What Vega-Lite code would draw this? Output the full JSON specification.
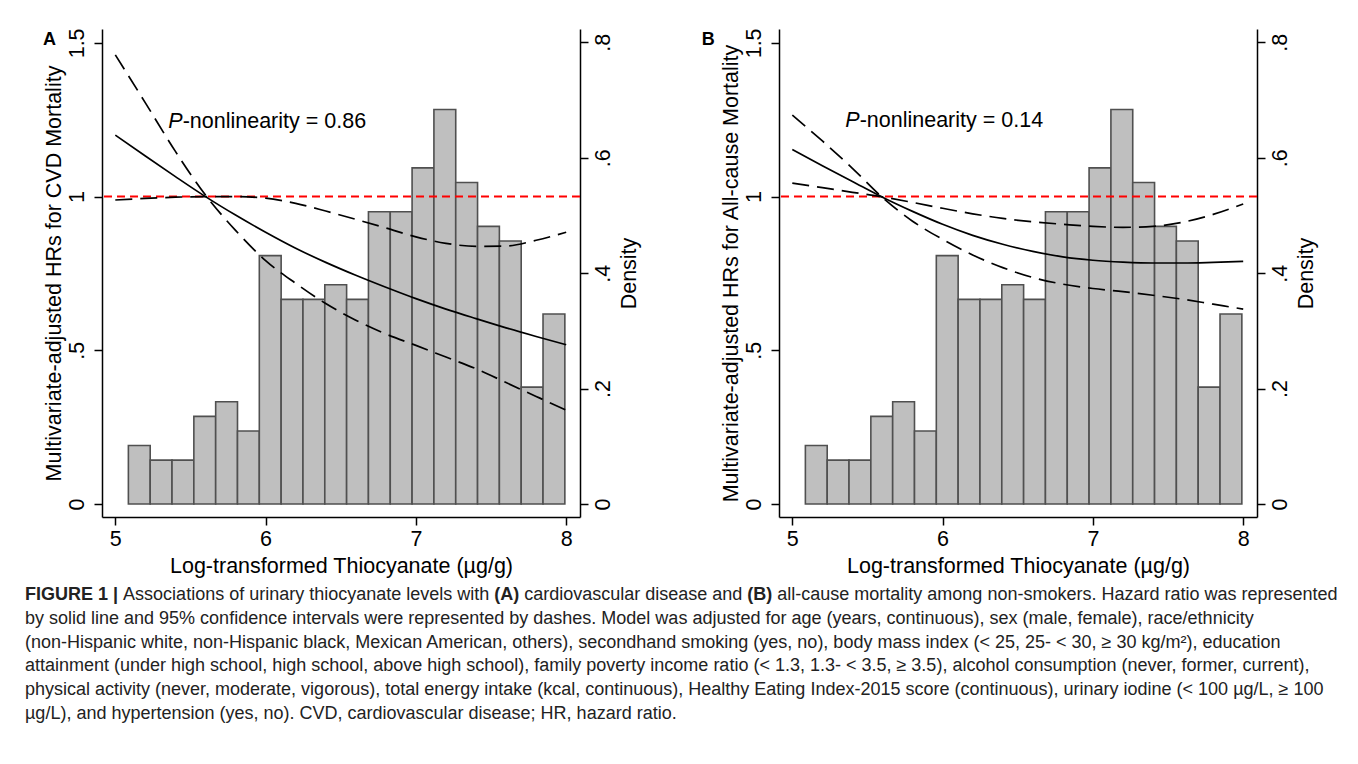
{
  "$schema": "https://vega.github.io/schema/vega-lite/v6.json",
  "background": "white",
  "padding": {"left": 25, "top": 27, "right": 0, "bottom": 0},
  "config": {
    "view": {"stroke": null},
    "font": "Liberation Sans",
    "axis": {
      "domainColor": "#000000", "domainWidth": 1.5,
      "tickColor": "#000000", "tickWidth": 1.5, "tickSize": 8,
      "labelFont": "Liberation Sans", "labelFontSize": 21.5, "labelColor": "#000000",
      "titleFont": "Liberation Sans", "titleFontSize": 21.5, "titleFontWeight": "normal", "titleColor": "#000000",
      "grid": false, "labelOverlap": false, "labelFlush": false
    }
  },
  "datasets": {
    "hist": [
      {"bin_start": 5.087, "bin_end": 5.2322, "density": 0.1013},
      {"bin_start": 5.2322, "bin_end": 5.3774, "density": 0.0760},
      {"bin_start": 5.3774, "bin_end": 5.5226, "density": 0.0760},
      {"bin_start": 5.5226, "bin_end": 5.6678, "density": 0.1519},
      {"bin_start": 5.6678, "bin_end": 5.813, "density": 0.1772},
      {"bin_start": 5.813, "bin_end": 5.9582, "density": 0.1266},
      {"bin_start": 5.9582, "bin_end": 6.1034, "density": 0.4304},
      {"bin_start": 6.1034, "bin_end": 6.2486, "density": 0.3545},
      {"bin_start": 6.2486, "bin_end": 6.3938, "density": 0.3545},
      {"bin_start": 6.3938, "bin_end": 6.539, "density": 0.3798},
      {"bin_start": 6.539, "bin_end": 6.6842, "density": 0.3545},
      {"bin_start": 6.6842, "bin_end": 6.8294, "density": 0.5064},
      {"bin_start": 6.8294, "bin_end": 6.9746, "density": 0.5064},
      {"bin_start": 6.9746, "bin_end": 7.1198, "density": 0.5824},
      {"bin_start": 7.1198, "bin_end": 7.265, "density": 0.6836},
      {"bin_start": 7.265, "bin_end": 7.4102, "density": 0.5570},
      {"bin_start": 7.4102, "bin_end": 7.5554, "density": 0.4811},
      {"bin_start": 7.5554, "bin_end": 7.7006, "density": 0.4558},
      {"bin_start": 7.7006, "bin_end": 7.8458, "density": 0.2026},
      {"bin_start": 7.8458, "bin_end": 7.991, "density": 0.3292}
    ],
    "curves": [
      {"panel": "A", "series": "hr", "x": 5.0, "hr": 1.200},
      {"panel": "A", "series": "hr", "x": 5.2, "hr": 1.132},
      {"panel": "A", "series": "hr", "x": 5.4, "hr": 1.065},
      {"panel": "A", "series": "hr", "x": 5.6, "hr": 1.000},
      {"panel": "A", "series": "hr", "x": 5.8, "hr": 0.940},
      {"panel": "A", "series": "hr", "x": 6.0, "hr": 0.884},
      {"panel": "A", "series": "hr", "x": 6.2, "hr": 0.832},
      {"panel": "A", "series": "hr", "x": 6.4, "hr": 0.786},
      {"panel": "A", "series": "hr", "x": 6.6, "hr": 0.744},
      {"panel": "A", "series": "hr", "x": 6.8, "hr": 0.705},
      {"panel": "A", "series": "hr", "x": 7.0, "hr": 0.668},
      {"panel": "A", "series": "hr", "x": 7.2, "hr": 0.634},
      {"panel": "A", "series": "hr", "x": 7.4, "hr": 0.603},
      {"panel": "A", "series": "hr", "x": 7.6, "hr": 0.573},
      {"panel": "A", "series": "hr", "x": 7.8, "hr": 0.545},
      {"panel": "A", "series": "hr", "x": 8.0, "hr": 0.518},
      {"panel": "A", "series": "ci_a", "x": 5.0, "hr": 1.461},
      {"panel": "A", "series": "ci_a", "x": 5.2, "hr": 1.305},
      {"panel": "A", "series": "ci_a", "x": 5.4, "hr": 1.147},
      {"panel": "A", "series": "ci_a", "x": 5.6, "hr": 1.005},
      {"panel": "A", "series": "ci_a", "x": 5.8, "hr": 0.890},
      {"panel": "A", "series": "ci_a", "x": 6.0, "hr": 0.792},
      {"panel": "A", "series": "ci_a", "x": 6.2, "hr": 0.718},
      {"panel": "A", "series": "ci_a", "x": 6.4, "hr": 0.652},
      {"panel": "A", "series": "ci_a", "x": 6.6, "hr": 0.598},
      {"panel": "A", "series": "ci_a", "x": 6.8, "hr": 0.553},
      {"panel": "A", "series": "ci_a", "x": 7.0, "hr": 0.516},
      {"panel": "A", "series": "ci_a", "x": 7.2, "hr": 0.478},
      {"panel": "A", "series": "ci_a", "x": 7.4, "hr": 0.440},
      {"panel": "A", "series": "ci_a", "x": 7.6, "hr": 0.395},
      {"panel": "A", "series": "ci_a", "x": 7.8, "hr": 0.350},
      {"panel": "A", "series": "ci_a", "x": 8.0, "hr": 0.305},
      {"panel": "A", "series": "ci_b", "x": 5.0, "hr": 0.989},
      {"panel": "A", "series": "ci_b", "x": 5.2, "hr": 0.994},
      {"panel": "A", "series": "ci_b", "x": 5.4, "hr": 0.998},
      {"panel": "A", "series": "ci_b", "x": 5.6, "hr": 1.000},
      {"panel": "A", "series": "ci_b", "x": 5.8, "hr": 1.000},
      {"panel": "A", "series": "ci_b", "x": 6.0, "hr": 0.995},
      {"panel": "A", "series": "ci_b", "x": 6.2, "hr": 0.978},
      {"panel": "A", "series": "ci_b", "x": 6.4, "hr": 0.953},
      {"panel": "A", "series": "ci_b", "x": 6.6, "hr": 0.926},
      {"panel": "A", "series": "ci_b", "x": 6.8, "hr": 0.898},
      {"panel": "A", "series": "ci_b", "x": 7.0, "hr": 0.869},
      {"panel": "A", "series": "ci_b", "x": 7.2, "hr": 0.848},
      {"panel": "A", "series": "ci_b", "x": 7.4, "hr": 0.838},
      {"panel": "A", "series": "ci_b", "x": 7.6, "hr": 0.839},
      {"panel": "A", "series": "ci_b", "x": 7.8, "hr": 0.858},
      {"panel": "A", "series": "ci_b", "x": 8.0, "hr": 0.884},
      {"panel": "B", "series": "hr", "x": 5.0, "hr": 1.153},
      {"panel": "B", "series": "hr", "x": 5.2, "hr": 1.100},
      {"panel": "B", "series": "hr", "x": 5.4, "hr": 1.049},
      {"panel": "B", "series": "hr", "x": 5.6, "hr": 0.998},
      {"panel": "B", "series": "hr", "x": 5.8, "hr": 0.952},
      {"panel": "B", "series": "hr", "x": 6.0, "hr": 0.910},
      {"panel": "B", "series": "hr", "x": 6.2, "hr": 0.874},
      {"panel": "B", "series": "hr", "x": 6.4, "hr": 0.845},
      {"panel": "B", "series": "hr", "x": 6.6, "hr": 0.822},
      {"panel": "B", "series": "hr", "x": 6.8, "hr": 0.804},
      {"panel": "B", "series": "hr", "x": 7.0, "hr": 0.793},
      {"panel": "B", "series": "hr", "x": 7.2, "hr": 0.787},
      {"panel": "B", "series": "hr", "x": 7.4, "hr": 0.784},
      {"panel": "B", "series": "hr", "x": 7.6, "hr": 0.784},
      {"panel": "B", "series": "hr", "x": 7.8, "hr": 0.786},
      {"panel": "B", "series": "hr", "x": 8.0, "hr": 0.789},
      {"panel": "B", "series": "ci_a", "x": 5.0, "hr": 1.265},
      {"panel": "B", "series": "ci_a", "x": 5.2, "hr": 1.181},
      {"panel": "B", "series": "ci_a", "x": 5.4, "hr": 1.092},
      {"panel": "B", "series": "ci_a", "x": 5.6, "hr": 0.997},
      {"panel": "B", "series": "ci_a", "x": 5.8, "hr": 0.920},
      {"panel": "B", "series": "ci_a", "x": 6.0, "hr": 0.861},
      {"panel": "B", "series": "ci_a", "x": 6.2, "hr": 0.810},
      {"panel": "B", "series": "ci_a", "x": 6.4, "hr": 0.769},
      {"panel": "B", "series": "ci_a", "x": 6.6, "hr": 0.737},
      {"panel": "B", "series": "ci_a", "x": 6.8, "hr": 0.715},
      {"panel": "B", "series": "ci_a", "x": 7.0, "hr": 0.701},
      {"panel": "B", "series": "ci_a", "x": 7.2, "hr": 0.691},
      {"panel": "B", "series": "ci_a", "x": 7.4, "hr": 0.679},
      {"panel": "B", "series": "ci_a", "x": 7.6, "hr": 0.666},
      {"panel": "B", "series": "ci_a", "x": 7.8, "hr": 0.650},
      {"panel": "B", "series": "ci_a", "x": 8.0, "hr": 0.634},
      {"panel": "B", "series": "ci_b", "x": 5.0, "hr": 1.044},
      {"panel": "B", "series": "ci_b", "x": 5.2, "hr": 1.029},
      {"panel": "B", "series": "ci_b", "x": 5.4, "hr": 1.014},
      {"panel": "B", "series": "ci_b", "x": 5.6, "hr": 0.999},
      {"panel": "B", "series": "ci_b", "x": 5.8, "hr": 0.981},
      {"panel": "B", "series": "ci_b", "x": 6.0, "hr": 0.962},
      {"panel": "B", "series": "ci_b", "x": 6.2, "hr": 0.944},
      {"panel": "B", "series": "ci_b", "x": 6.4, "hr": 0.929},
      {"panel": "B", "series": "ci_b", "x": 6.6, "hr": 0.918},
      {"panel": "B", "series": "ci_b", "x": 6.8, "hr": 0.910},
      {"panel": "B", "series": "ci_b", "x": 7.0, "hr": 0.903},
      {"panel": "B", "series": "ci_b", "x": 7.2, "hr": 0.900},
      {"panel": "B", "series": "ci_b", "x": 7.4, "hr": 0.903},
      {"panel": "B", "series": "ci_b", "x": 7.6, "hr": 0.917},
      {"panel": "B", "series": "ci_b", "x": 7.8, "hr": 0.942},
      {"panel": "B", "series": "ci_b", "x": 8.0, "hr": 0.976}
    ],
    "caption": [
      {"line": 1, "seg": "b1", "text": "FIGURE 1 |"},
      {"line": 1, "seg": "n2", "text": "Associations of urinary thiocyanate levels with"},
      {"line": 1, "seg": "b3", "text": "(A)"},
      {"line": 1, "seg": "n4", "text": "cardiovascular disease and"},
      {"line": 1, "seg": "b5", "text": "(B)"},
      {"line": 1, "seg": "n6", "text": "all-cause mortality among non-smokers. Hazard ratio was represented"},
      {"line": 2, "seg": "n", "text": "by solid line and 95% confidence intervals were represented by dashes. Model was adjusted for age (years, continuous), sex (male, female), race/ethnicity"},
      {"line": 3, "seg": "n", "text": "(non-Hispanic white, non-Hispanic black, Mexican American, others), secondhand smoking (yes, no), body mass index (< 25, 25- < 30, ≥ 30 kg/m²), education"},
      {"line": 4, "seg": "n", "text": "attainment (under high school, high school, above high school), family poverty income ratio (< 1.3, 1.3- < 3.5, ≥ 3.5), alcohol consumption (never, former, current),"},
      {"line": 5, "seg": "n", "text": "physical activity (never, moderate, vigorous), total energy intake (kcal, continuous), Healthy Eating Index-2015 score (continuous), urinary iodine (< 100 µg/L, ≥ 100"},
      {"line": 6, "seg": "n", "text": "µg/L), and hypertension (yes, no). CVD, cardiovascular disease; HR, hazard ratio."}
    ]
  },
  "spacing": 9,
  "vconcat": [
    {
      "hconcat": [
        {
          "width": 478, "height": 488,
          "layer": [
            {
              "data": {"name": "hist"},
              "mark": {"type": "rect", "fill": "#bfbfbf", "stroke": "#505050", "strokeWidth": 1.6},
              "encoding": {
                "x": {"field": "bin_start", "type": "quantitative", "title": "Log-transformed Thiocyanate (µg/g)",
                      "scale": {"domain": [4.9115, 8.0918], "nice": false, "zero": false},
                      "axis": {"values": [5, 6, 7, 8], "format": "d", "labelPadding": 3, "titlePadding": 6}},
                "x2": {"field": "bin_end"},
                "y": {"field": "density", "type": "quantitative", "title": "Density",
                      "scale": {"domain": [-0.02253, 0.8231], "nice": false, "zero": false},
                      "axis": {"orient": "right", "values": [0, 0.2, 0.4, 0.6, 0.8],
                               "labelExpr": "datum.value == 0 ? '0' : replace(format(datum.value, '~g'), '0.', '.')",
                               "labelAngle": 270, "labelAlign": "center", "labelBaseline": "alphabetic", "labelPadding": 21,
                               "titleAngle": 270, "titleBaseline": "top", "titlePadding": 5}},
                "y2": {"datum": 0}
              }
            },
            {
              "layer": [
                {
                  "data": {"values": [{}]},
                  "mark": {"type": "rule", "color": "#ff0000", "strokeWidth": 2, "strokeDash": [8, 5]},
                  "encoding": {
                    "y": {"datum": 1, "type": "quantitative", "title": "Multivariate-adjusted HRs for CVD Mortality",
                          "scale": {"domain": [-0.04229, 1.5452], "nice": false, "zero": false},
                          "axis": {"orient": "left", "values": [0, 0.5, 1, 1.5],
                                   "labelExpr": "datum.value == 0 ? '0' : replace(format(datum.value, '~g'), '0.', '.')",
                                   "labelAngle": 270, "labelAlign": "center", "labelBaseline": "alphabetic", "labelPadding": 11,
                                   "titleAngle": 270, "titleBaseline": "alphabetic", "titlePadding": 6}}
                  }
                },
                {
                  "data": {"name": "curves"},
                  "transform": [{"filter": "datum.panel == 'A' && datum.series != 'hr'"}],
                  "mark": {"type": "line", "color": "#000000", "strokeWidth": 1.7, "strokeDash": [17, 8], "interpolate": "monotone"},
                  "encoding": {
                    "x": {"field": "x", "type": "quantitative", "title": "Log-transformed Thiocyanate (µg/g)"},
                    "y": {"field": "hr", "type": "quantitative", "title": "Multivariate-adjusted HRs for CVD Mortality"},
                    "detail": {"field": "series"}
                  }
                },
                {
                  "data": {"name": "curves"},
                  "transform": [{"filter": "datum.panel == 'A' && datum.series == 'hr'"}],
                  "mark": {"type": "line", "color": "#000000", "strokeWidth": 1.7, "interpolate": "monotone"},
                  "encoding": {
                    "x": {"field": "x", "type": "quantitative", "title": "Log-transformed Thiocyanate (µg/g)"},
                    "y": {"field": "hr", "type": "quantitative", "title": "Multivariate-adjusted HRs for CVD Mortality"}
                  }
                },
                {
                  "data": {"values": [{}]},
                  "mark": {"type": "text", "text": "P", "fontStyle": "italic", "fontSize": 21.5, "align": "left", "baseline": "alphabetic", "color": "#000000"},
                  "encoding": {"x": {"datum": 5.353, "type": "quantitative"}, "y": {"datum": 1.223, "type": "quantitative"}}
                },
                {
                  "data": {"values": [{}]},
                  "mark": {"type": "text", "text": "-nonlinearity = 0.86", "dx": 14.3, "fontSize": 21.5, "align": "left", "baseline": "alphabetic", "color": "#000000"},
                  "encoding": {"x": {"datum": 5.353, "type": "quantitative"}, "y": {"datum": 1.223, "type": "quantitative"}}
                },
                {
                  "data": {"values": [{}]},
                  "mark": {"type": "text", "text": "A", "fontWeight": "bold", "fontSize": 18, "align": "left", "baseline": "alphabetic", "color": "#000000"},
                  "encoding": {"x": {"datum": 4.519, "type": "quantitative"}, "y": {"datum": 1.492, "type": "quantitative"}}
                }
              ]
            }
          ],
          "resolve": {"scale": {"y": "independent"}}
        },
        {
          "width": 478, "height": 488,
          "layer": [
            {
              "data": {"name": "hist"},
              "mark": {"type": "rect", "fill": "#bfbfbf", "stroke": "#505050", "strokeWidth": 1.6},
              "encoding": {
                "x": {"field": "bin_start", "type": "quantitative", "title": "Log-transformed Thiocyanate (µg/g)",
                      "scale": {"domain": [4.9115, 8.0918], "nice": false, "zero": false},
                      "axis": {"values": [5, 6, 7, 8], "format": "d", "labelPadding": 3, "titlePadding": 6}},
                "x2": {"field": "bin_end"},
                "y": {"field": "density", "type": "quantitative", "title": "Density",
                      "scale": {"domain": [-0.02253, 0.8231], "nice": false, "zero": false},
                      "axis": {"orient": "right", "values": [0, 0.2, 0.4, 0.6, 0.8],
                               "labelExpr": "datum.value == 0 ? '0' : replace(format(datum.value, '~g'), '0.', '.')",
                               "labelAngle": 270, "labelAlign": "center", "labelBaseline": "alphabetic", "labelPadding": 21,
                               "titleAngle": 270, "titleBaseline": "top", "titlePadding": 5}},
                "y2": {"datum": 0}
              }
            },
            {
              "layer": [
                {
                  "data": {"values": [{}]},
                  "mark": {"type": "rule", "color": "#ff0000", "strokeWidth": 2, "strokeDash": [8, 5]},
                  "encoding": {
                    "y": {"datum": 1, "type": "quantitative", "title": "Multivariate-adjusted HRs for All-cause Mortality",
                          "scale": {"domain": [-0.04229, 1.5452], "nice": false, "zero": false},
                          "axis": {"orient": "left", "values": [0, 0.5, 1, 1.5],
                                   "labelExpr": "datum.value == 0 ? '0' : replace(format(datum.value, '~g'), '0.', '.')",
                                   "labelAngle": 270, "labelAlign": "center", "labelBaseline": "alphabetic", "labelPadding": 11,
                                   "titleAngle": 270, "titleBaseline": "alphabetic", "titlePadding": 6}}
                  }
                },
                {
                  "data": {"name": "curves"},
                  "transform": [{"filter": "datum.panel == 'B' && datum.series != 'hr'"}],
                  "mark": {"type": "line", "color": "#000000", "strokeWidth": 1.7, "strokeDash": [17, 8], "interpolate": "monotone"},
                  "encoding": {
                    "x": {"field": "x", "type": "quantitative", "title": "Log-transformed Thiocyanate (µg/g)"},
                    "y": {"field": "hr", "type": "quantitative", "title": "Multivariate-adjusted HRs for All-cause Mortality"},
                    "detail": {"field": "series"}
                  }
                },
                {
                  "data": {"name": "curves"},
                  "transform": [{"filter": "datum.panel == 'B' && datum.series == 'hr'"}],
                  "mark": {"type": "line", "color": "#000000", "strokeWidth": 1.7, "interpolate": "monotone"},
                  "encoding": {
                    "x": {"field": "x", "type": "quantitative", "title": "Log-transformed Thiocyanate (µg/g)"},
                    "y": {"field": "hr", "type": "quantitative", "title": "Multivariate-adjusted HRs for All-cause Mortality"}
                  }
                },
                {
                  "data": {"values": [{}]},
                  "mark": {"type": "text", "text": "P", "fontStyle": "italic", "fontSize": 21.5, "align": "left", "baseline": "alphabetic", "color": "#000000"},
                  "encoding": {"x": {"datum": 5.353, "type": "quantitative"}, "y": {"datum": 1.225, "type": "quantitative"}}
                },
                {
                  "data": {"values": [{}]},
                  "mark": {"type": "text", "text": "-nonlinearity = 0.14", "dx": 14.3, "fontSize": 21.5, "align": "left", "baseline": "alphabetic", "color": "#000000"},
                  "encoding": {"x": {"datum": 5.353, "type": "quantitative"}, "y": {"datum": 1.225, "type": "quantitative"}}
                },
                {
                  "data": {"values": [{}]},
                  "mark": {"type": "text", "text": "B", "fontWeight": "bold", "fontSize": 18, "align": "left", "baseline": "alphabetic", "color": "#000000"},
                  "encoding": {"x": {"datum": 4.397, "type": "quantitative"}, "y": {"datum": 1.492, "type": "quantitative"}}
                }
              ]
            }
          ],
          "resolve": {"scale": {"y": "independent"}}
        }
      ],
      "spacing": 199,
      "bounds": "flush"
    },
    {
      "width": 1240, "height": 132,
      "data": {"name": "caption"},
      "encoding": {
        "x": {"datum": 0, "type": "quantitative", "scale": {"domain": [0, 1]}, "axis": null},
        "y": {"field": "line", "type": "quantitative", "scale": {"domain": [0.45, 6], "reverse": true, "nice": false, "zero": false}, "axis": null}
      },
      "layer": [
        {"transform": [{"filter": "datum.seg == 'b1'"}], "mark": {"type": "text", "align": "left", "baseline": "alphabetic", "fontSize": 18, "dx": -77, "fontWeight": "bold", "color": "#222222"}, "encoding": {"text": {"field": "text"}}},
        {"transform": [{"filter": "datum.seg == 'n2'"}], "mark": {"type": "text", "align": "left", "baseline": "alphabetic", "fontSize": 18, "dx": 21.1, "color": "#222222"}, "encoding": {"text": {"field": "text"}}},
        {"transform": [{"filter": "datum.seg == 'b3'"}], "mark": {"type": "text", "align": "left", "baseline": "alphabetic", "fontSize": 18, "dx": 392.2, "fontWeight": "bold", "color": "#222222"}, "encoding": {"text": {"field": "text"}}},
        {"transform": [{"filter": "datum.seg == 'n4'"}], "mark": {"type": "text", "align": "left", "baseline": "alphabetic", "fontSize": 18, "dx": 422.2, "color": "#222222"}, "encoding": {"text": {"field": "text"}}},
        {"transform": [{"filter": "datum.seg == 'b5'"}], "mark": {"type": "text", "align": "left", "baseline": "alphabetic", "fontSize": 18, "dx": 645.3, "fontWeight": "bold", "color": "#222222"}, "encoding": {"text": {"field": "text"}}},
        {"transform": [{"filter": "datum.seg == 'n6'"}], "mark": {"type": "text", "align": "left", "baseline": "alphabetic", "fontSize": 18, "dx": 675.3, "color": "#222222"}, "encoding": {"text": {"field": "text"}}},
        {"transform": [{"filter": "datum.seg == 'n'"}], "mark": {"type": "text", "align": "left", "baseline": "alphabetic", "fontSize": 18, "dx": -77, "color": "#222222"}, "encoding": {"text": {"field": "text"}}}
      ]
    }
  ]
}
